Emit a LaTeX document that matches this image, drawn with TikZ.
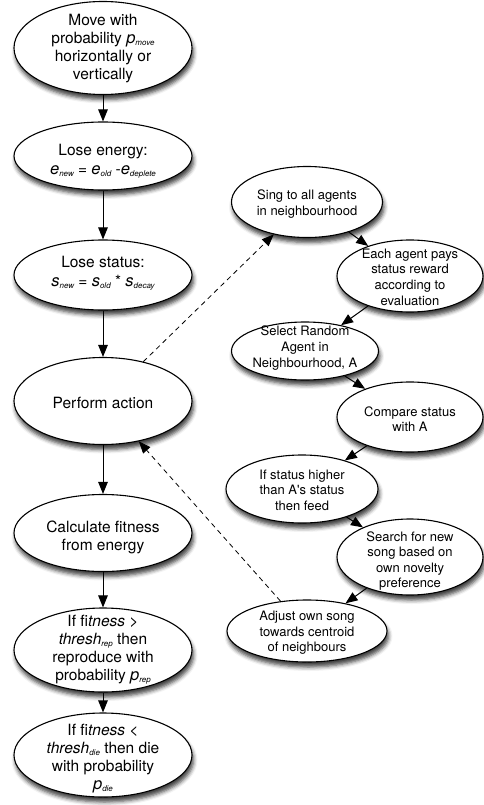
\documentclass[tikz,border=0pt]{standalone}
\usepackage{fontspec}
\setmainfont{TeX Gyre Heros}[Ligatures=TeXOff]
\usetikzlibrary{shapes.geometric,arrows.meta,shadows.blur}
\newcommand\sbx[1]{\raisebox{-0.2ex}{\fontsize{8}{8}\selectfont\itshape #1}}
\newcommand\bigit[1]{{\fontsize{16.5}{18}\selectfont\itshape #1}}
\begin{document}
\begin{tikzpicture}[x=1pt,y=-1pt,
  ell/.style={ellipse, draw=black, line width=1.1pt, fill=white, inner sep=0pt,
     blur shadow={shadow xshift=1.5pt, shadow yshift=-5pt, shadow blur radius=4pt, shadow opacity=75}},
  bigtxt/.style={align=center, font=\fontsize{15.5}{18}\selectfont, inner sep=0pt},
  smalltxt/.style={align=center, font=\fontsize{13}{15.6}\selectfont, inner sep=0pt},
  arr/.style={-{Triangle[length=12pt,width=9.5pt]}, line width=1pt},
  darr/.style={-{Triangle[length=12pt,width=9.5pt]}, line width=0.8pt, dash pattern=on 5pt off 4pt}]
\useasboundingbox (0,0) rectangle (483,805);

% left column
\node[ell, minimum width=178pt, minimum height=93pt] (move) at (103,48) {};
\node[bigtxt] (movet) at (103,49) {Move with\\probability \bigit{p}\sbx{move}\\horizontally or\\vertically};

\node[ell, minimum width=178pt, minimum height=68pt] (energy) at (103,156) {};
\node[bigtxt] (energyt) at (103,161) {Lose energy:\\[1pt]\bigit{e}\sbx{new} = \bigit{e}\sbx{old} -\bigit{e}\sbx{deplete}};

\node[ell, minimum width=178pt, minimum height=70pt] (status) at (103,275) {};
\node[bigtxt] (statust) at (103,273) {Lose status:\\[1pt]\bigit{s}\sbx{new} = \bigit{s}\sbx{old} * \bigit{s}\sbx{decay}};

\node[ell, minimum width=178pt, minimum height=87pt] (perform) at (103,401) {};
\node[bigtxt] (performt) at (103,403) {Perform action};

\node[ell, minimum width=178pt, minimum height=77pt] (calc) at (103,533) {};
\node[bigtxt] (calct) at (103,537) {Calculate fitness\\from energy};

\node[ell, minimum width=178pt, minimum height=84pt] (fitrep) at (103,650) {};
\node[bigtxt] (fitrept) at (103,650) {If fi\textit{tness} >\\\textit{thresh}\sbx{rep} then\\reproduce with\\probability \bigit{p}\sbx{rep}};

\node[ell, minimum width=178pt, minimum height=84pt] (fitdie) at (103,755) {};
\node[bigtxt] (fitdiet) at (103,759) {If fi\textit{tness} <\\\textit{thresh}\sbx{die} then die\\with probability\\\bigit{p}\sbx{die}};

% right column
\node[ell, minimum width=151pt, minimum height=71pt] (sing) at (307,202) {};
\node[smalltxt] (singt) at (307,204) {Sing to all agents\\in neighbourhood};

\node[ell, minimum width=146pt, minimum height=72pt] (each) at (410,276) {};
\node[smalltxt] (eacht) at (410,277) {Each agent pays\\status reward\\according to\\evaluation};

\node[ell, minimum width=147pt, minimum height=58pt] (select) at (305,351) {};
\node[smalltxt] (selectt) at (305,348) {Select Random\\Agent in\\Neighbourhood, A};

\node[ell, minimum width=146pt, minimum height=70pt] (compare) at (410,417) {};
\node[smalltxt] (comparet) at (410,419) {Compare status\\with A};

\node[ell, minimum width=152pt, minimum height=68pt] (ifstatus) at (302,489) {};
\node[smalltxt] (ifstatust) at (302,490) {If status higher\\than A's status\\then feed};

\node[ell, minimum width=146pt, minimum height=76pt] (search) at (410,557) {};
\node[smalltxt] (searcht) at (410,561) {Search for new\\song based on\\own novelty\\preference};

\node[ell, minimum width=160pt, minimum height=62pt] (adjust) at (307,631) {};
\node[smalltxt] (adjustt) at (307,633) {Adjust own song\\towards centroid\\of neighbours};

% connectors
\draw[arr] (move) -- (energy);
\draw[arr] (energy) -- (status);
\draw[arr] (status) -- (perform);
\draw[arr] (perform) -- (calc);
\draw[arr] (calc) -- (fitrep);
\draw[arr] (fitrep) -- (fitdie);

\draw[arr] (sing) -- (each);
\draw[arr] (each) -- (select);
\draw[arr] (select) -- (compare);
\draw[arr] (compare) -- (ifstatus);
\draw[arr] (ifstatus) -- (search);
\draw[arr] (search) -- (adjust);

\draw[darr] (perform) -- (sing);
\draw[darr] (adjust) -- (perform);
\end{tikzpicture}
\end{document}
